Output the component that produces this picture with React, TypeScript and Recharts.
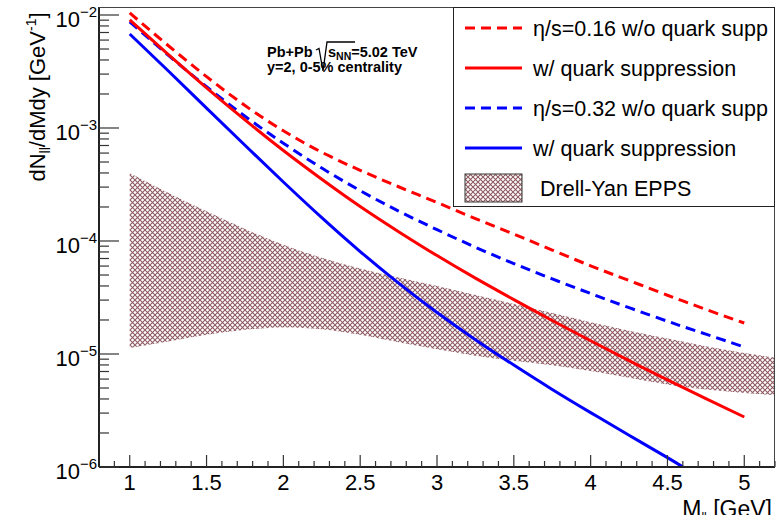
import React from "react";
import { ComposedChart, Line, Area, XAxis, YAxis } from "recharts";

// invariant mass grid [GeV]
const mass = [1, 1.25, 1.5, 1.75, 2, 2.25, 2.5, 2.75, 3, 3.25, 3.5, 3.75, 4, 4.25, 4.5, 4.6, 4.75, 5, 5.2];

// eta/s = 0.16, no quark suppression (red dashed)
const eta016NoSupp = [1.042e-2, 5.37e-3, 2.85e-3, 1.58e-3, 9.44e-4, 6.1e-4, 4.22e-4, 3.02e-4, 2.19e-4, 1.58e-4, 1.15e-4, 8.32e-5, 6.03e-5, 4.47e-5, 3.31e-5, 2.95e-5, 2.48e-5, 1.88e-5, null];
// eta/s = 0.16 with quark suppression (red solid)
const eta016Supp = [9.04e-3, 4.48e-3, 2.27e-3, 1.18e-3, 6.32e-4, 3.52e-4, 2.02e-4, 1.21e-4, 7.43e-5, 4.69e-5, 3.03e-5, 1.98e-5, 1.31e-5, 8.73e-6, 5.9e-6, 5.06e-6, 4.02e-6, 2.77e-6, null];
// eta/s = 0.32, no quark suppression (blue dashed)
const eta032NoSupp = [8.71e-3, 4.42e-3, 2.32e-3, 1.27e-3, 7.33e-4, 4.42e-4, 2.79e-4, 1.84e-4, 1.26e-4, 8.81e-5, 6.31e-5, 4.62e-5, 3.43e-5, 2.57e-5, 1.95e-5, 1.75e-5, 1.5e-5, 1.15e-5, null];
// eta/s = 0.32 with quark suppression (blue solid)
const eta032Supp = [6.79e-3, 3.21e-3, 1.5e-3, 7.03e-4, 3.33e-4, 1.61e-4, 8.07e-5, 4.24e-5, 2.33e-5, 1.34e-5, 7.98e-6, 4.86e-6, 3.03e-6, 1.91e-6, 1.21e-6, 1.0e-6, null, null, null];
// Drell-Yan EPPS band
const dyHigh = [4.0e-4, 2.67e-4, 1.83e-4, 1.28e-4, 9.27e-5, 7.11e-5, 5.71e-5, 4.75e-5, 4.0e-5, 3.33e-5, 2.77e-5, 2.3e-5, 1.91e-5, 1.61e-5, 1.37e-5, 1.29e-5, 1.17e-5, 1.02e-5, 9.3e-6];
const dyLow = [1.13e-5, 1.29e-5, 1.48e-5, 1.64e-5, 1.72e-5, 1.66e-5, 1.48e-5, 1.27e-5, 1.1e-5, 9.66e-6, 8.71e-6, 7.94e-6, 7.08e-6, 6.17e-6, 5.37e-6, 5.13e-6, 4.84e-6, 4.52e-6, 4.34e-6];

const xMajorTicks = [1, 1.5, 2, 2.5, 3, 3.5, 4, 4.5, 5];
const xMinorStep = 0.1;
const yMajorTicks = [1e-6, 1e-5, 1e-4, 1e-3, 1e-2];
const yMinorMult = [2, 3, 4, 5, 6, 7, 8, 9];

const legendItems = [
  { label: "\u03b7/s=0.16 w/o quark supp", color: "#ff0000", dash: "10 6" },
  { label: "w/ quark suppression", color: "#ff0000", dash: undefined },
  { label: "\u03b7/s=0.32 w/o quark supp", color: "#0000ff", dash: "10 6" },
  { label: "w/ quark suppression", color: "#0000ff", dash: undefined },
];

const data = mass.map((m, i) => ({
  m,
  r016: eta016NoSupp[i],
  r016s: eta016Supp[i],
  b032: eta032NoSupp[i],
  b032s: eta032Supp[i],
  band: [dyLow[i], dyHigh[i]],
}));

const xTicks: number[] = [];
for (let v = 0.9; v <= 5.2001; v += xMinorStep) xTicks.push(Math.round(v * 10) / 10);
const yTicks: number[] = [];
yMajorTicks.forEach((t, i) => {
  yTicks.push(t);
  if (i < yMajorTicks.length - 1) yMinorMult.forEach((k) => yTicks.push(+(k * t).toPrecision(3)));
});

const FONT = "'Liberation Sans', Arial, Helvetica, sans-serif";
const HATCH = "#8f5a62";

function XTick(props: any) {
  const { x, y, payload } = props;
  const v = payload.value;
  const major = xMajorTicks.some((t) => Math.abs(t - v) < 1e-6);
  return (
    <g>
      <line x1={x} x2={x} y1={y} y2={y - (major ? 12 : 6)} stroke="#333" strokeWidth={1.2} />
      {major && (
        <text x={x} y={y + 23} textAnchor="middle" fontSize={22} fontFamily={FONT} fill="#000">
          {v}
        </text>
      )}
    </g>
  );
}

function YTick(props: any) {
  const { x, y, payload } = props;
  const v = payload.value;
  const lg = Math.log10(v);
  const exp = Math.round(lg);
  const major = Math.abs(lg - exp) < 1e-6;
  return (
    <g>
      <line x1={x} x2={x + (major ? 20 : 10)} y1={y} y2={y} stroke="#333" strokeWidth={1.2} />
      {major && (
        <text x={x - 2} y={y + 12} textAnchor="end" fontSize={22} fontFamily={FONT} fill="#000">
          10
          <tspan dy={-10} fontSize={15}>{"\u2212" + -exp}</tspan>
        </text>
      )}
    </g>
  );
}

export default function App() {
  return (
    <div style={{ position: "absolute", left: 0, top: 0, width: 782, height: 515, background: "#fff", fontFamily: FONT }}>
      <ComposedChart width={782} height={515} data={data} margin={{ top: 7, right: 7, bottom: 0, left: 0 }}>
        <defs>
          <pattern id="hatch" width="5" height="5" patternUnits="userSpaceOnUse">
            <path d="M-1,-1 L6,6 M6,-1 L-1,6" stroke={HATCH} strokeWidth={1.1} />
          </pattern>
        </defs>
        <XAxis
          dataKey="m"
          type="number"
          domain={[0.8, 5.2]}
          allowDataOverflow
          ticks={xTicks}
          interval={0}
          tick={<XTick />}
          tickLine={false}
          tickSize={0}
          tickMargin={0}
          height={48}
          axisLine={{ stroke: "#222", strokeWidth: 2 }}
        />
        <YAxis
          type="number"
          scale="log"
          domain={[1e-6, 0.01177]}
          allowDataOverflow
          ticks={yTicks}
          interval={0}
          tick={<YTick />}
          tickLine={false}
          tickSize={0}
          tickMargin={0}
          width={99}
          axisLine={{ stroke: "#222", strokeWidth: 2 }}
        />
        <Line dataKey="r016" stroke="#ff0000" strokeWidth={3} strokeDasharray="10 6" dot={false} type="natural" isAnimationActive={false} />
        <Line dataKey="b032" stroke="#0000ff" strokeWidth={3} strokeDasharray="10 6" dot={false} type="natural" isAnimationActive={false} />
        <Line dataKey="r016s" stroke="#ff0000" strokeWidth={3} dot={false} type="natural" isAnimationActive={false} />
        <Line dataKey="b032s" stroke="#0000ff" strokeWidth={3} dot={false} type="natural" isAnimationActive={false} />
        <Area dataKey="band" type="monotone" stroke="none" fill="url(#hatch)" fillOpacity={1} isAnimationActive={false} />
      </ComposedChart>

      {/* top / right frame */}
      <div style={{ position: "absolute", left: 99, top: 7, width: 676, height: 460, borderTop: "1px solid #444", borderRight: "1px solid #444", boxSizing: "border-box", pointerEvents: "none" }} />

      {/* titles */}
      <svg width={782} height={515} style={{ position: "absolute", left: 0, top: 0, pointerEvents: "none" }}>
        <text transform="rotate(-90)" x={-97} y={45} textAnchor="middle" fontSize={22} fontFamily={FONT} fill="#000">
          dN<tspan dy={5} fontSize={14}>ll</tspan>
          <tspan dy={-5}>/dMdy [GeV</tspan>
          <tspan dy={-9} fontSize={14}>-1</tspan>
          <tspan dy={9}>]</tspan>
        </text>
        <text x={772} y={517} textAnchor="end" fontSize={23} fontFamily={FONT} fill="#000">
          M<tspan dy={4} fontSize={12}>ll</tspan>
          <tspan dy={-4}> [GeV]</tspan>
        </text>
        <text x={267} y={57} fontSize={14.5} fontWeight="bold" fontFamily={FONT} fill="#000">
          Pb+Pb
        </text>
        <path d="M316,50 L319,48.5 L323,71 L327,42 L355,42" fill="none" stroke="#000" strokeWidth={1.3} />
        <text x={328} y={57} fontSize={14.5} fontWeight="bold" fontFamily={FONT} fill="#000">
          s<tspan dy={2.5} fontSize={10.5}>NN</tspan>
          <tspan dy={-2.5}>=5.02 TeV</tspan>
        </text>
        <text x={267} y={72} fontSize={14.5} fontWeight="bold" fontFamily={FONT} fill="#000">
          y=2, 0-5% centrality
        </text>
      </svg>

      {/* legend */}
      <div style={{ position: "absolute", left: 453, top: 7, width: 322, height: 200, border: "1px solid #222", boxSizing: "border-box", background: "#fff" }}>
        <svg width={322} height={200} style={{ position: "absolute", left: -1, top: -1 }}>
          {legendItems.map((it, i) => (
            <g key={i}>
              <line x1={12} x2={69} y1={21 + i * 40} y2={21 + i * 40} stroke={it.color} strokeWidth={3} strokeDasharray={it.dash} />
              <text x={80} y={29 + i * 40} fontSize={21.5} fontFamily={FONT} fill="#000">{it.label}</text>
            </g>
          ))}
          <rect x={12} y={167} width={57} height={28} fill="url(#hatch)" stroke="#333" strokeWidth={1} />
          <text x={87} y={189} fontSize={21.5} fontFamily={FONT} fill="#000">Drell-Yan EPPS</text>
        </svg>
      </div>
    </div>
  );
}
